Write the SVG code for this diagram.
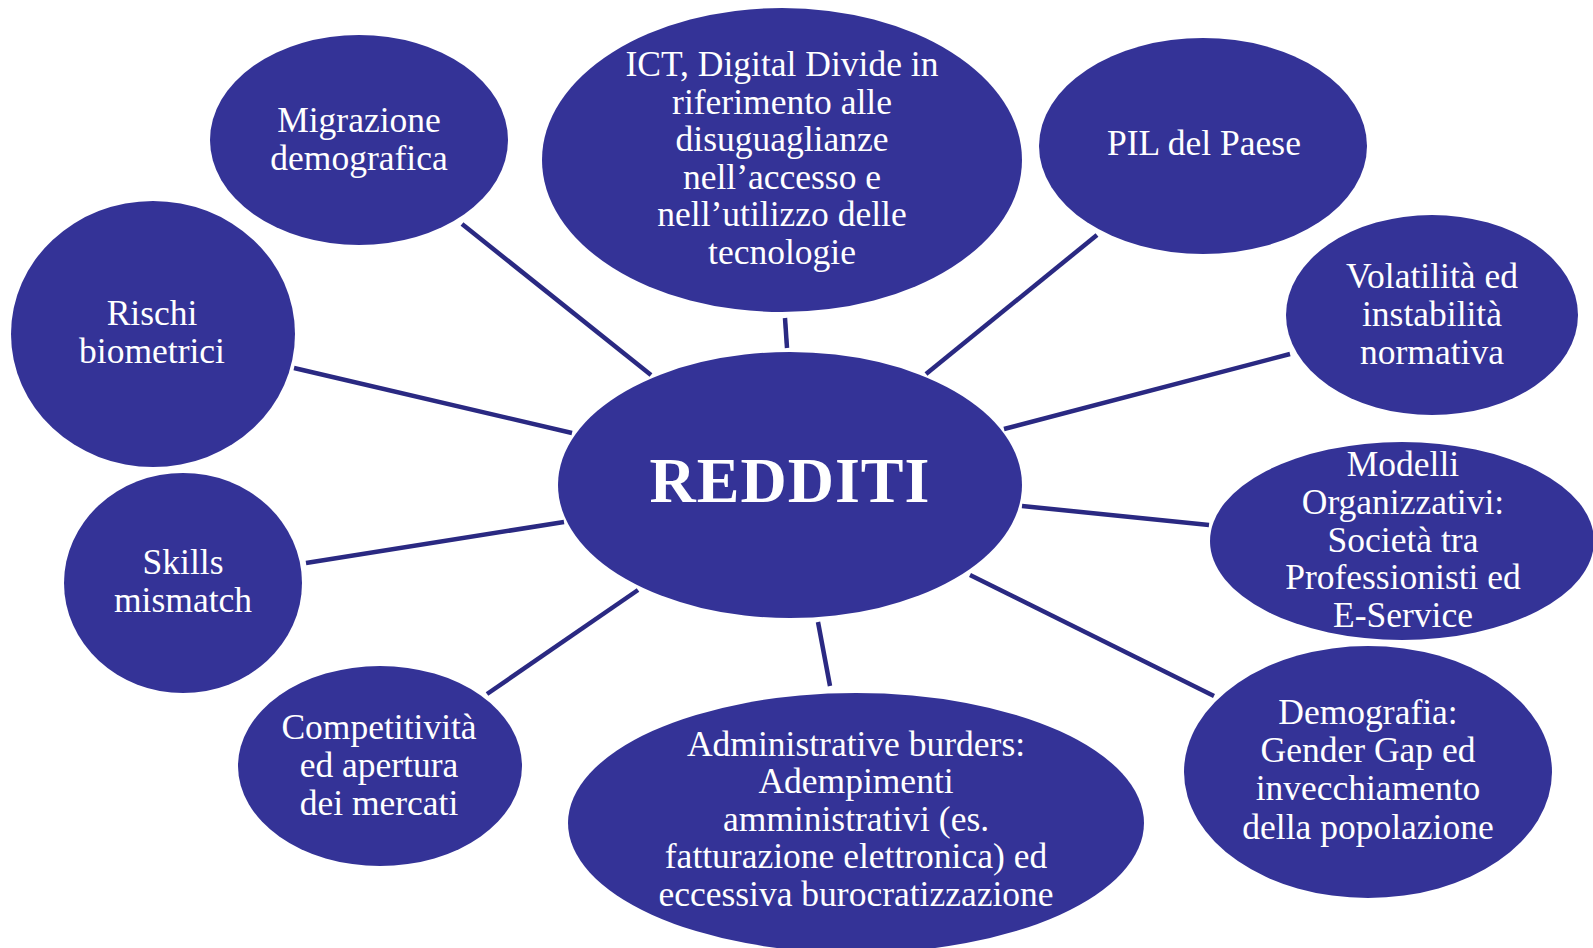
<svg xmlns="http://www.w3.org/2000/svg" width="1593" height="948" viewBox="0 0 1593 948">
  <style>
    .node { fill: #343397; }
    .lbl { fill: #ffffff; font-family: "Liberation Serif", "DejaVu Serif", serif; font-size: 35.5px; text-anchor: middle; }
    .main { fill: #ffffff; font-family: "Liberation Serif", "DejaVu Serif", serif; font-size: 64px; font-weight: bold; text-anchor: middle; letter-spacing: 1px; }
    .conn line { stroke: #2a2982; stroke-width: 4.5; }
  </style>
  <rect width="1593" height="948" fill="#ffffff"/>

  <!-- connectors between the hub and the surrounding factors -->
  <g id="connectors" class="conn">
    <line x1="462" y1="224" x2="651" y2="375"/>
    <line x1="785" y1="318" x2="787" y2="348"/>
    <line x1="1097" y1="235" x2="926" y2="374"/>
    <line x1="1290" y1="354" x2="1004" y2="429"/>
    <line x1="1022" y1="506" x2="1209" y2="525"/>
    <line x1="970" y1="575" x2="1214" y2="696"/>
    <line x1="818" y1="622" x2="830" y2="686"/>
    <line x1="638" y1="590" x2="487" y2="694"/>
    <line x1="564" y1="522" x2="306" y2="563"/>
    <line x1="572" y1="433" x2="294" y2="368"/>
  </g>

  <g id="migrazione">
    <ellipse class="node" cx="359" cy="140" rx="149" ry="105"/>
    <text class="lbl" x="359" y="132">Migrazione</text>
    <text class="lbl" x="359" y="170">demografica</text>
  </g>

  <g id="ict">
    <ellipse class="node" cx="782" cy="160" rx="240" ry="152"/>
    <text class="lbl" x="782" y="76">ICT, Digital Divide in</text>
    <text class="lbl" x="782" y="114">riferimento alle</text>
    <text class="lbl" x="782" y="151">disuguaglianze</text>
    <text class="lbl" x="782" y="189">nell’accesso e</text>
    <text class="lbl" x="782" y="226">nell’utilizzo delle</text>
    <text class="lbl" x="782" y="264">tecnologie</text>
  </g>

  <g id="pil">
    <ellipse class="node" cx="1203" cy="146" rx="164" ry="108"/>
    <text class="lbl" x="1204" y="155">PIL del Paese</text>
  </g>

  <g id="volatilita">
    <ellipse class="node" cx="1432" cy="315" rx="146" ry="100"/>
    <text class="lbl" x="1432" y="288">Volatilità ed</text>
    <text class="lbl" x="1432" y="326">instabilità</text>
    <text class="lbl" x="1432" y="364">normativa</text>
  </g>

  <g id="modelli">
    <ellipse class="node" cx="1402" cy="541" rx="192" ry="99"/>
    <text class="lbl" x="1403" y="476">Modelli</text>
    <text class="lbl" x="1403" y="514">Organizzativi:</text>
    <text class="lbl" x="1403" y="552">Società tra</text>
    <text class="lbl" x="1403" y="589">Professionisti ed</text>
    <text class="lbl" x="1403" y="627">E-Service</text>
  </g>

  <g id="demografia">
    <ellipse class="node" cx="1368" cy="772" rx="184" ry="126"/>
    <text class="lbl" x="1368" y="724">Demografia:</text>
    <text class="lbl" x="1368" y="762">Gender Gap ed</text>
    <text class="lbl" x="1368" y="800">invecchiamento</text>
    <text class="lbl" x="1368" y="839">della popolazione</text>
  </g>

  <g id="administrative">
    <ellipse class="node" cx="856" cy="823" rx="288" ry="130"/>
    <text class="lbl" x="856" y="756">Administrative burders:</text>
    <text class="lbl" x="856" y="793">Adempimenti</text>
    <text class="lbl" x="856" y="831">amministrativi (es.</text>
    <text class="lbl" x="856" y="868">fatturazione elettronica) ed</text>
    <text class="lbl" x="856" y="906">eccessiva burocratizzazione</text>
  </g>

  <g id="competitivita">
    <ellipse class="node" cx="380" cy="766" rx="142" ry="100"/>
    <text class="lbl" x="379" y="739">Competitività</text>
    <text class="lbl" x="379" y="777">ed apertura</text>
    <text class="lbl" x="379" y="815">dei mercati</text>
  </g>

  <g id="skills">
    <ellipse class="node" cx="183" cy="583" rx="119" ry="110"/>
    <text class="lbl" x="183" y="574">Skills</text>
    <text class="lbl" x="183" y="612">mismatch</text>
  </g>

  <g id="rischi">
    <ellipse class="node" cx="153" cy="334" rx="142" ry="133"/>
    <text class="lbl" x="152" y="325">Rischi</text>
    <text class="lbl" x="152" y="363">biometrici</text>
  </g>

  <g id="redditi">
    <ellipse class="node" cx="790" cy="485" rx="232" ry="133"/>
    <text class="main" x="790" y="502">REDDITI</text>
  </g>
</svg>
